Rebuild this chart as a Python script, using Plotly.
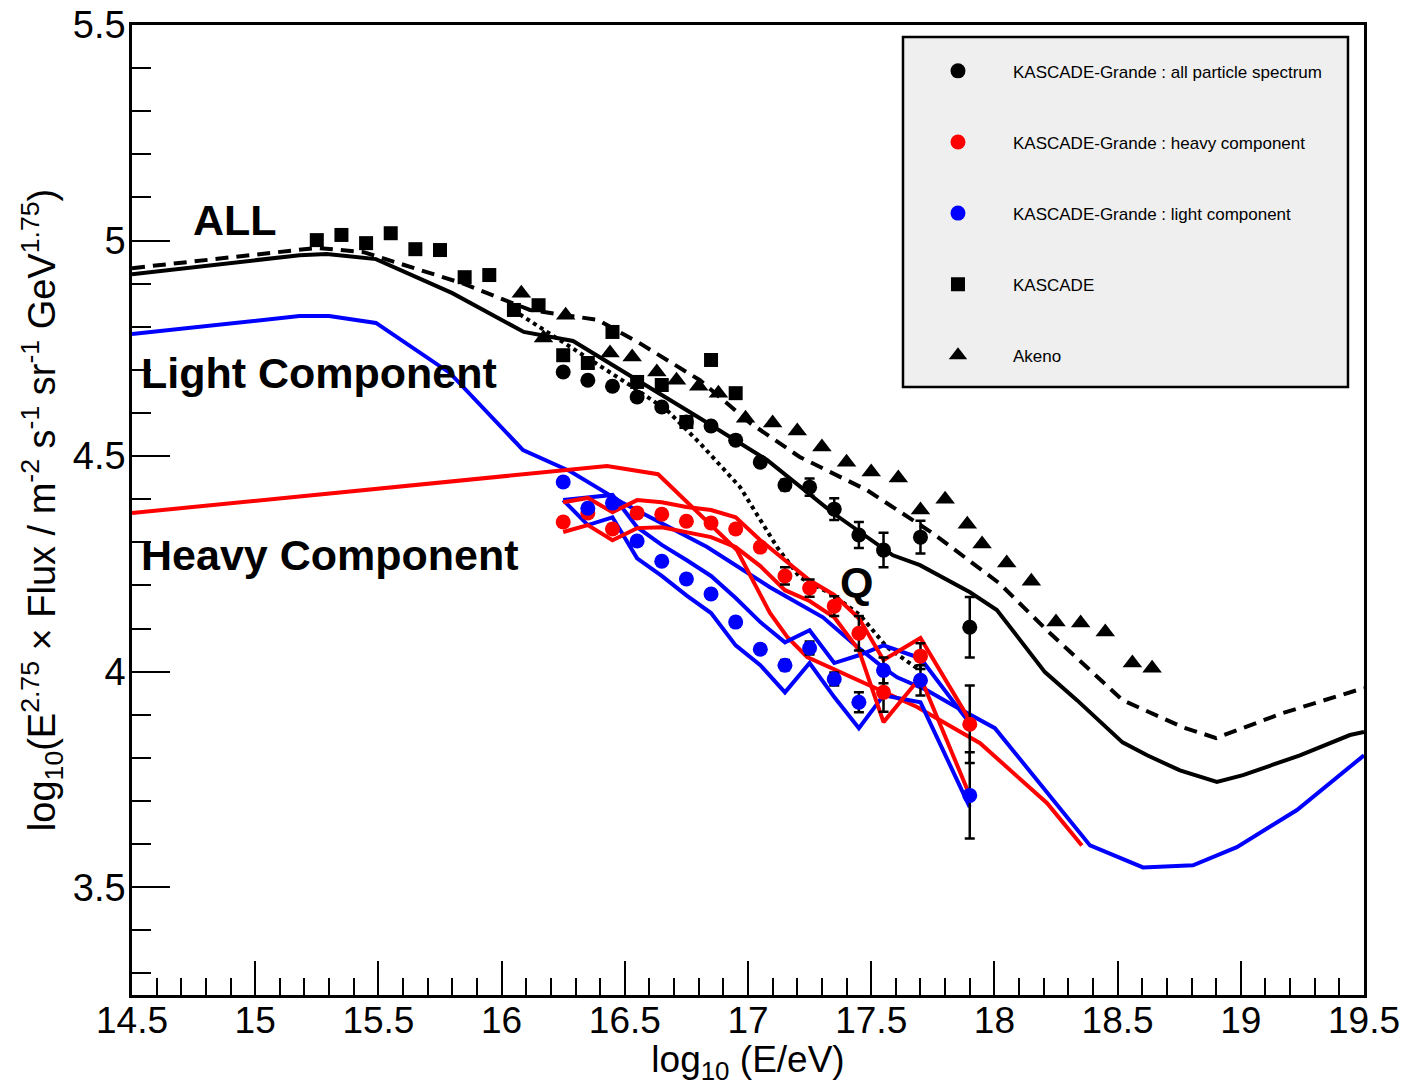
import plotly.graph_objects as go

# ---------------- data ----------------
# model curves
all_model_x = [14.5, 15.18, 15.29, 15.49, 15.80, 16.09, 16.29, 16.52, 16.805, 17.077, 17.345, 17.588, 17.698, 17.901, 18.01, 18.205, 18.335, 18.52, 18.62, 18.753, 18.903, 19.009, 19.24, 19.443, 19.5]
all_model_y = [4.922, 4.966, 4.969, 4.957, 4.878, 4.788, 4.767, 4.688, 4.588, 4.491, 4.368, 4.270, 4.247, 4.184, 4.143, 3.999, 3.934, 3.836, 3.806, 3.771, 3.744, 3.760, 3.806, 3.853, 3.860]

all_dash_x = [14.5, 15.25, 15.44, 15.84, 16.115, 16.39, 16.56, 16.805, 17.008, 17.21, 17.483, 17.75, 18.02, 18.226, 18.52, 18.765, 18.90, 19.17, 19.5]
all_dash_y = [4.936, 4.983, 4.973, 4.901, 4.839, 4.816, 4.762, 4.676, 4.577, 4.498, 4.421, 4.321, 4.205, 4.089, 3.934, 3.871, 3.846, 3.904, 3.962]

all_dot_x = [16.046, 16.29, 16.533, 16.67, 16.805, 16.968, 17.118, 17.21, 17.345, 17.455, 17.564, 17.698]
all_dot_y = [4.839, 4.750, 4.660, 4.607, 4.530, 4.428, 4.289, 4.219, 4.178, 4.131, 4.057, 4.003]

light_model_x = [14.5, 15.18, 15.30, 15.49, 15.79, 16.087, 16.278, 16.493, 16.834, 17.089, 17.304, 17.426, 17.548, 17.605, 17.726, 17.832, 18.002, 18.388, 18.603, 18.806, 18.984, 19.228, 19.5]
light_model_y = [4.783, 4.825, 4.825, 4.809, 4.693, 4.514, 4.465, 4.391, 4.289, 4.196, 4.126, 4.066, 4.010, 3.987, 3.957, 3.922, 3.869, 3.597, 3.546, 3.551, 3.593, 3.679, 3.806]

heavy_model_x = [14.5, 16.428, 16.635, 16.777, 16.955, 17.089, 17.16, 17.24, 17.536, 17.686, 17.942, 18.214, 18.355]
heavy_model_y = [4.368, 4.477, 4.458, 4.379, 4.282, 4.136, 4.080, 4.034, 3.957, 3.918, 3.834, 3.695, 3.597]

# KASCADE-Grande energy bins
kg_x = [16.25, 16.35, 16.45, 16.55, 16.65, 16.75, 16.85, 16.95, 17.05, 17.15, 17.25, 17.35, 17.45, 17.55, 17.7, 17.9]

kg_all_y = [4.695, 4.676, 4.662, 4.637, 4.614, 4.579, 4.570, 4.537, 4.486, 4.433, 4.428, 4.377, 4.317, 4.282, 4.312, 4.103]
kg_all_err = [0.01, 0.01, 0.01, 0.01, 0.01, 0.01, 0.01, 0.01, 0.01, 0.012, 0.02, 0.025, 0.03, 0.04, 0.038, 0.07]

kg_heavy_y = [4.347, 4.368, 4.331, 4.368, 4.365, 4.349, 4.345, 4.331, 4.289, 4.222, 4.194, 4.152, 4.089, 3.952, 4.036, 3.878]
kg_heavy_err = [0.01, 0.01, 0.01, 0.01, 0.01, 0.01, 0.01, 0.01, 0.01, 0.02, 0.02, 0.023, 0.04, 0.045, 0.03, 0.09]

kg_light_y = [4.440, 4.379, 4.391, 4.303, 4.256, 4.215, 4.180, 4.115, 4.052, 4.015, 4.055, 3.983, 3.929, 4.003, 3.980, 3.713]
kg_light_err = [0.01, 0.01, 0.01, 0.01, 0.01, 0.01, 0.01, 0.01, 0.01, 0.012, 0.015, 0.015, 0.023, 0.03, 0.035, 0.1]

# KASCADE-Grande systematic bands
light_upper_y = [4.398, 4.405, 4.410, 4.335, 4.294, 4.259, 4.222, 4.171, 4.115, 4.068, 4.096, 4.020, 4.038, 4.061, 4.031, 3.880]
light_lower_y = [4.398, 4.340, 4.358, 4.263, 4.222, 4.177, 4.136, 4.061, 4.015, 3.952, 4.020, 3.941, 3.869, 3.945, 3.929, 3.686]
heavy_upper_y = [4.393, 4.403, 4.370, 4.398, 4.393, 4.382, 4.375, 4.358, 4.305, 4.259, 4.212, 4.178, 4.124, 4.027, 4.078, 3.887]
heavy_lower_y = [4.324, 4.340, 4.305, 4.333, 4.335, 4.324, 4.312, 4.289, 4.245, 4.189, 4.164, 4.126, 4.050, 3.883, 3.987, 3.713]

# KASCADE
kascade_x = [15.25, 15.35, 15.45, 15.55, 15.65, 15.75, 15.85, 15.95, 16.05, 16.15, 16.25, 16.35, 16.45, 16.55, 16.65, 16.75, 16.85, 16.95]
kascade_y = [5.001, 5.013, 4.994, 5.017, 4.980, 4.978, 4.915, 4.920, 4.839, 4.850, 4.734, 4.716, 4.788, 4.672, 4.665, 4.579, 4.723, 4.646]

# Akeno
akeno_x = [16.08, 16.17, 16.26, 16.44, 16.53, 16.63, 16.71, 16.80, 16.88, 16.99, 17.10, 17.20, 17.30, 17.40, 17.50, 17.61, 17.70, 17.80, 17.89, 17.95, 18.05, 18.15, 18.25, 18.35, 18.45, 18.56, 18.64]
akeno_y = [4.878, 4.774, 4.827, 4.739, 4.730, 4.695, 4.676, 4.662, 4.646, 4.588, 4.577, 4.558, 4.521, 4.486, 4.463, 4.449, 4.375, 4.400, 4.342, 4.296, 4.252, 4.210, 4.115, 4.113, 4.092, 4.020, 4.008]

x_tickvals = [14.5, 15, 15.5, 16, 16.5, 17, 17.5, 18, 18.5, 19, 19.5]
x_ticktext = ["14.5", "15", "15.5", "16", "16.5", "17", "17.5", "18", "18.5", "19", "19.5"]
y_tickvals = [3.5, 4, 4.5, 5, 5.5]
y_ticktext = ["3.5", "4", "4.5", "5", "5.5"]

# ---------------- figure ----------------
BLACK = "#000000"
RED = "#ff0000"
BLUE = "#0000ff"
LW = 4
FONT = "Liberation Sans, Arial, sans-serif"

fig = go.Figure()

def line(x, y, color, dash="solid", width=LW):
    fig.add_trace(go.Scatter(x=x, y=y, mode="lines", showlegend=False,
                             line=dict(color=color, width=width, dash=dash), hoverinfo="skip"))

line(all_model_x, all_model_y, BLACK)
line(all_dash_x, all_dash_y, BLACK, "13px,8px")
line(all_dot_x, all_dot_y, BLACK, "4px,4px")
line(light_model_x, light_model_y, BLUE)
line(heavy_model_x, heavy_model_y, RED)
line(kg_x, light_upper_y, BLUE)
line(kg_x, light_lower_y, BLUE)
line(kg_x, heavy_upper_y, RED)
line(kg_x, heavy_lower_y, RED)

def pts(x, y, err, color, symbol, name, size, group):
    fig.add_trace(go.Scatter(
        x=x, y=y, mode="markers", name=name, legendgroup=group,
        marker=dict(color=color, symbol=symbol, size=size, line=dict(width=0)),
        error_y=(dict(type="data", array=err, color=BLACK, thickness=2.5, width=5) if err is not None else None),
    ))

pts(kg_x, kg_all_y, kg_all_err, BLACK, "circle", "KASCADE-Grande : all particle spectrum", 15, "g1")
pts(kg_x, kg_heavy_y, kg_heavy_err, RED, "circle", "KASCADE-Grande : heavy component", 15, "g2")
pts(kg_x, kg_light_y, kg_light_err, BLUE, "circle", "KASCADE-Grande : light component", 15, "g3")
pts(kascade_x, kascade_y, None, BLACK, "square", "KASCADE", 14, "g4")
pts(akeno_x, akeno_y, None, BLACK, "triangle-up", "Akeno", 17, "g5")

# text labels
lab_font = dict(family=FONT, size=43, color=BLACK)
for txt, xx, yy, anchor in [("<b>ALL</b>", 14.918, 5.048, "center"),
                            ("<b>Light Component</b>", 14.53, 4.693, "left"),
                            ("<b>Heavy Component</b>", 14.53, 4.270, "left"),
                            ("<b>Q</b>", 17.442, 4.208, "center")]:
    fig.add_annotation(x=xx, y=yy, text=txt, showarrow=False, xanchor=anchor, yanchor="middle", font=lab_font)

# legend frame
fig.add_shape(type="rect", xref="paper", yref="paper", x0=0.6258, x1=0.987, y0=0.6268, y1=0.9876,
              line=dict(color=BLACK, width=2.5), fillcolor="#efefef", layer="below")

axis_font = dict(family=FONT, size=37, color=BLACK)

fig.update_layout(
    width=1408, height=1085,
    margin=dict(l=132, r=44, t=25, b=90, autoexpand=False),
    paper_bgcolor="white", plot_bgcolor="white",
    font=dict(family=FONT, color=BLACK),
    legend=dict(x=0.6258, y=0.9708, xanchor="left", yanchor="top",
                bgcolor="rgba(0,0,0,0)", borderwidth=0,
                font=dict(family=FONT, size=17, color=BLACK),
                itemwidth=100, tracegroupgap=46, itemclick=False, itemdoubleclick=False),
    xaxis=dict(range=[14.5, 19.5], showgrid=False, zeroline=False, automargin=False,
               showline=True, linecolor=BLACK, linewidth=2.5, mirror=True,
               ticks="inside", ticklen=34, tickwidth=2, tickcolor=BLACK,
               tickvals=x_tickvals, ticktext=x_ticktext, tickfont=axis_font,
               ticklabelstandoff=-9,
               minor=dict(dtick=0.1, ticks="inside", ticklen=17, tickwidth=2, tickcolor=BLACK, showgrid=False),
               title=dict(text="log<sub>10</sub> (E/eV)", font=dict(family=FONT, size=37, color=BLACK))),
    yaxis=dict(range=[3.25, 5.5], showgrid=False, zeroline=False, automargin=True,
               showline=True, linecolor=BLACK, linewidth=2.5, mirror=True,
               ticks="inside", ticklen=38, tickwidth=2, tickcolor=BLACK,
               tickvals=y_tickvals, ticktext=y_ticktext, tickfont=dict(family=FONT, size=38, color=BLACK),
               ticklabelstandoff=-4,
               minor=dict(dtick=0.1, ticks="inside", ticklen=19, tickwidth=2, tickcolor=BLACK, showgrid=False),
               title=dict(text="log<sub>10</sub>(E<sup>2.75</sup> × Flux / m<sup>-2</sup> s<sup>-1</sup> sr<sup>-1</sup> GeV<sup>1.75</sup>)",
                          font=dict(family=FONT, size=38, color=BLACK), standoff=6)),
)

fig.write_html("out.html")
